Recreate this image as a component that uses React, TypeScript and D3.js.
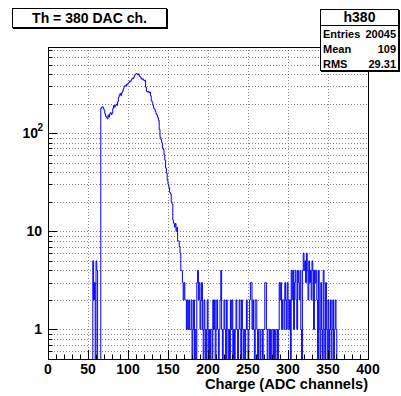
import React from 'react';
import * as d3 from 'd3';

// ---- data (bin width 1, ADC channels) ----
const PRE_START = 55;
const preEdge: number[] = [0, 5, 2, 3, 0, 5, 4, 0, 0, 0, 0]; // bins 55..65

const CORE_START = 66;
const core: number[] = [
  179, 184, 186, 179, 171, 157, 148, 144, 140, 153, // 66-75
  146, 157, 162, 155, 160, 179, 192, 184, 190, 197, // 76-85
  192, 210, 232, 245, 254, 241, 258, 267, 284, 298, // 86-95
  306, 302, 315, 311, 324, 328, 341, 337, 350, 363, // 96-105
  359, 372, 389, 398, 406, 402, 393, 402, 380, 376, // 106-115
  363, 354, 359, 350, 341, 346, 293, 267, 263, 267, // 116-125
  258, 263, 241, 215, 206, 192, 179, 175, 166, 157, // 126-135
  153, 144, 135, 109, 91, 86, 80, 71, 68, 60,       // 136-145
  53, 44, 39, 33, 30, 28, 25, 24, 20, 19,           // 146-155
  13, 12, 11, 12, 10, 11, 8, 8, 7, 6,               // 156-165
];

const TAIL_START = 166;
const tail: number[] = [
  4, 4, 3, 2, 3, 2, 2, 1, 2, 1,       // 166-175
  2, 1, 1, 2, 0, 1, 2, 0, 1, 0,       // 176-185
  3, 4, 2, 3, 1, 2, 3, 1, 0, 2,       // 186-195
  1, 0, 1, 2, 0, 1, 0, 1, 1, 0,       // 196-205
  2, 1, 2, 0, 1, 2, 1, 0, 1, 2,       // 206-215
  4, 1, 0, 1, 2, 1, 0, 2, 1, 0,       // 216-225
  1, 0, 2, 1, 2, 0, 1, 0, 1, 2,       // 226-235
  1, 0, 1, 2, 1, 0, 2, 1, 0, 1,       // 236-245
  0, 1, 2, 1, 0, 1, 2, 3, 3, 1,       // 246-255
  2, 1, 0, 2, 2, 1, 0, 1, 1, 0,       // 256-265
  1, 1, 0, 1, 1, 3, 3, 1, 0, 1,       // 266-275
  1, 0, 1, 0, 1, 1, 0, 1, 0, 1,       // 276-285
  1, 0, 1, 3, 2, 3, 1, 2, 2, 1,       // 286-295
  3, 2, 1, 3, 2, 1, 2, 0, 4, 2,       // 296-305
  4, 1, 3, 4, 2, 1, 4, 3, 2, 4,       // 306-315
  1, 0, 4, 6, 4, 5, 3, 6, 4, 2,       // 316-325
  5, 3, 4, 2, 5, 4, 1, 4, 3, 4,       // 326-335
  2, 0, 4, 1, 0, 3, 1, 0, 4, 1,       // 336-345
  0, 3, 1, 0, 2, 0, 1, 2, 0, 1,       // 346-355
  2, 0, 1, 2, 1, 0,                   // 356-361
];

const xTicks: number[] = [0, 50, 100, 150, 200, 250, 300, 350, 400];
const titleText = 'Th = 380 DAC ch.';
const xAxisTitle = 'Charge (ADC channels)';
const statsName = 'h380';
const statsLabels: string[] = ['Entries', 'Mean', 'RMS'];
const statsValues: string[] = ['20045', '109', '29.31'];

const NBINS = 400;
const Y_MIN = 0.5;
const Y_MAX = 755;

function buildCounts(): number[] {
  const c = new Array(NBINS).fill(0);
  preEdge.forEach((v, i) => (c[PRE_START + i] = v));
  core.forEach((v, i) => (c[CORE_START + i] = v));
  tail.forEach((v, i) => (c[TAIL_START + i] = v));
  return c;
}

const FONT = '"Liberation Sans", Arial, Helvetica, sans-serif';

export default function App() {
  const W = 401, H = 396;
  const L = 48, R = 368, T = 47, B = 359;
  const x = d3.scaleLinear().domain([0, 400]).range([L, R]);
  const y = d3.scaleLog().domain([Y_MIN, Y_MAX]).range([B, T]);
  const counts = buildCounts();

  const pts: [number, number][] = [];
  const yc = (c: number) => (c > 0 ? y(c) : B + 3);
  pts.push([x(0), B + 3]);
  counts.forEach((c, i) => {
    pts.push([x(i), yc(c)]);
    pts.push([x(i + 1), yc(c)]);
  });
  pts.push([x(NBINS), B + 3]);
  const path = d3.line()(pts) || '';

  // log ticks
  const logTicks: { v: number; major: boolean }[] = [];
  for (let e = -1; e <= 2; e++) {
    for (let m = 1; m <= 9; m++) {
      const v = m * Math.pow(10, e);
      if (v > Y_MIN && v < Y_MAX) logTicks.push({ v, major: m === 1 });
    }
  }
  const minorX: number[] = d3.range(0, 401, 10);

  const cr = (v: number) => Math.round(v) + 0.5;

  return (
    <svg width={W} height={H} style={{ position: 'absolute', left: 0, top: 0, background: '#fff' }}
      fontFamily={FONT}>
      <rect x={0} y={0} width={W} height={H} fill="#fff" />
      <defs>
        <clipPath id="frameClip">
          <rect x={L} y={T} width={R - L} height={B - T} />
        </clipPath>
      </defs>
      {/* grid */}
      <g stroke="#888" strokeWidth={1} strokeDasharray="1,2" fill="none">
        {xTicks.filter(t => t > 0 && t < 400).map(t => (
          <line key={'gx' + t} x1={cr(x(t))} x2={cr(x(t))} y1={T} y2={B} />
        ))}
        {logTicks.map(t => (
          <line key={'gy' + t.v} x1={L} x2={R} y1={cr(y(t.v))} y2={cr(y(t.v))} />
        ))}
      </g>
      {/* histogram */}
      <path d={path} fill="none" stroke="#0000ff" strokeWidth={1} clipPath="url(#frameClip)" />
      {/* frame */}
      <rect x={L + 0.5} y={T + 0.5} width={R - L} height={B - T} fill="none" stroke="#000" strokeWidth={1} />
      {/* ticks */}
      <g stroke="#000" strokeWidth={1}>
        {minorX.map(t => (
          <line key={'tx' + t} x1={cr(x(t))} x2={cr(x(t))} y1={B} y2={B - (t % 50 === 0 ? 9 : 4.5)} />
        ))}
        {logTicks.map(t => (
          <line key={'ty' + t.v} x1={L} x2={L + (t.major ? 9 : 4.5)} y1={cr(y(t.v))} y2={cr(y(t.v))} />
        ))}
      </g>
      {/* x labels */}
      <g fontSize={14} fontWeight="bold" textAnchor="middle" fill="#000">
        {xTicks.map(t => (
          <text key={'lx' + t} x={x(t)} y={374}>{t}</text>
        ))}
      </g>
      <text x={R} y={389} fontSize={14.6} fontWeight="bold" textAnchor="end">{xAxisTitle}</text>
      {/* y labels */}
      <g fontSize={14} fontWeight="bold" textAnchor="end" fill="#000">
        <text x={42} y={y(1) + 5}>1</text>
        <text x={42} y={y(10) + 5}>10</text>
        <text x={38} y={y(100) + 5}>10</text>
        <text x={43} y={y(100) - 2} fontSize={10}>2</text>
      </g>
      {/* title box */}
      <rect x={12.5} y={8.5} width={154} height={19} fill="#fff" stroke="#000" strokeWidth={1} />
      <line x1={167.5} x2={167.5} y1={9} y2={29} stroke="#000" />
      <line x1={13} x2={168} y1={28.5} y2={28.5} stroke="#000" />
      <text x={89.5} y={23} fontSize={14} fontWeight="bold" textAnchor="middle">{titleText}</text>
      {/* stats box */}
      <rect x={320.5} y={9.5} width={78} height={61} fill="#fff" stroke="#000" strokeWidth={1} />
      <line x1={399.5} x2={399.5} y1={10} y2={72} stroke="#000" />
      <line x1={321} x2={400} y1={71.5} y2={71.5} stroke="#000" />
      <line x1={320.5} x2={398.5} y1={25.5} y2={25.5} stroke="#000" />
      <text x={359.5} y={22} fontSize={14} fontWeight="bold" textAnchor="middle">{statsName}</text>
      {statsLabels.map((lab, i) => (
        <g key={lab} fontSize={11} fontWeight="bold">
          <text x={323} y={38 + i * 15}>{lab}</text>
          <text x={396} y={38 + i * 15} textAnchor="end">{statsValues[i]}</text>
        </g>
      ))}
    </svg>
  );
}
